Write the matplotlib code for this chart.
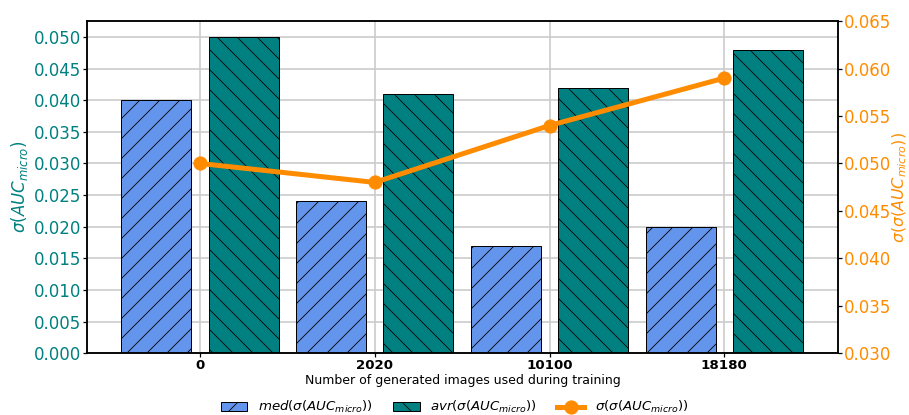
import numpy as np
import matplotlib.pyplot as plt

# values
n_images = ["0", "2020", "10100", "18180"]
med_sigma = [0.040, 0.024, 0.017, 0.020]
avr_sigma = [0.050, 0.041, 0.042, 0.048]
sigma_sigma = [0.050, 0.048, 0.054, 0.059]

x = np.arange(len(n_images))
w = 0.4

fig, ax = plt.subplots(figsize=(909 / 60, 415 / 60), dpi=60)
fig.subplots_adjust(left=0.0957, right=0.922, top=0.949, bottom=0.149)

ax.set_axisbelow(True)
ax.grid(True, color="#cccccc", linewidth=2)
b1 = ax.bar(x - 0.25, med_sigma, w, color="cornflowerblue", edgecolor="black",
            hatch="/", linewidth=1.2, label=r"$med(\sigma(AUC_{micro}))$")
b2 = ax.bar(x + 0.25, avr_sigma, w, color="teal", edgecolor="black",
            hatch="\\", linewidth=1.2, label=r"$avr(\sigma(AUC_{micro}))$")
ax.set_xlim(-0.646, 3.651)
ax.set_ylim(0, 0.0525)
ax.set_yticks(np.arange(0, 0.0501, 0.005))
ax.tick_params(axis="y", labelcolor="teal", labelsize=20, length=5, width=1.5, pad=2)
ax.tick_params(axis="x", length=5, width=1.5, pad=2.5)
ax.set_xticks(x)
ax.set_xticklabels(n_images, fontweight="bold", fontsize=16)
ax.set_xlabel("Number of generated images used during training", fontsize=15, labelpad=2)
ax.set_ylabel(r"$\sigma(AUC_{micro})$", color="teal", fontsize=20, labelpad=4)
for s in ax.spines.values():
    s.set_linewidth(1.8)

ax2 = ax.twinx()
l1, = ax2.plot(x, sigma_sigma, color="darkorange", linewidth=6, marker="o",
               markersize=16, label=r"$\sigma(\sigma(AUC_{micro}))$")
ax2.set_ylim(0.03, 0.065)
ax2.tick_params(axis="y", labelcolor="darkorange", labelsize=20, length=5, width=1.5, pad=2)
ax2.set_ylabel(r"$\sigma(\sigma(AUC_{micro}))$", color="darkorange", fontsize=19, labelpad=-1)
for s in ax2.spines.values():
    s.set_linewidth(1.8)

fig.legend(handles=[b1, b2, l1], loc="lower center", ncol=3, frameon=False,
           fontsize=16, bbox_to_anchor=(0.5, -0.03), columnspacing=1.5)

fig.savefig("out.png", dpi=60)
